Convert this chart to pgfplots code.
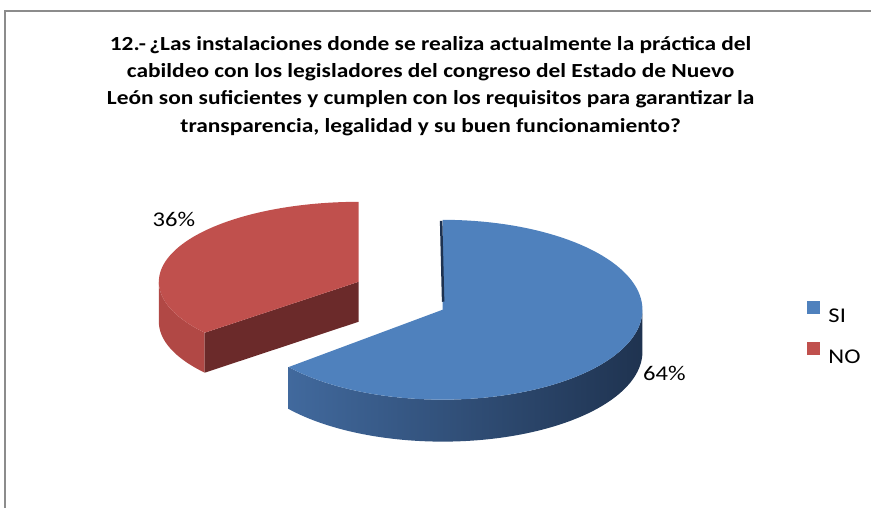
\documentclass[border=0pt]{standalone}
\usepackage{fontspec}
\setmainfont[FakeStretch=1.17]{Carlito}
\usepackage{pgfplots}
\usepackage{pgfplotstable}
\pgfplotsset{compat=1.18}

\definecolor{blueTop}{HTML}{4F81BD}
\definecolor{blueSideL}{HTML}{41699D}
\definecolor{blueSideR}{HTML}{1F3350}
\definecolor{blueEdge}{HTML}{1E3250}
\definecolor{redTop}{HTML}{C0504D}
\definecolor{redSide}{HTML}{B14845}
\definecolor{redCut}{HTML}{6B2A2A}
\definecolor{frameGray}{HTML}{8C8C8C}

\pgfplotstableread{
cat value
SI  64
NO  36
}\piedata
\pgfplotstablegetelem{0}{value}\of\piedata \edef\vSI{\pgfplotsretval}
\pgfplotstablegetelem{1}{value}\of\piedata \edef\vNO{\pgfplotsretval}
% angles (degrees): SI from 90 clockwise, NO after it
\pgfmathsetmacro\aTop{90}
\pgfmathsetmacro\aCut{90+3.6*\vNO}      % 219.6 = 90 - 3.6*SI + 360
\pgfmathsetmacro\aSIend{90+360}         % SI spans aCut .. 450

% geometry (pt, y up)
\def\bcx{443}\def\bcy{198}\def\brx{200}\def\bry{90}\def\bh{42}
\def\rcx{359}\def\rcy{226}\def\rrx{200}\def\rry{80}\def\rh{40}

% sector: cx cy rx ry a1 a2 style
\newcommand{\sector}[7]{%
\addplot[#7, forget plot, domain=0:1.02, samples=103, variable=\t]
 ({ifthenelse(\t<1.005, #1+#3*cos(#5+(#6-#5)*\t), #1)},
  {ifthenelse(\t<1.005, #2+#4*sin(#5+(#6-#5)*\t), #2)});}
% curved side: cx cy rx ry a1 a2 h style
\newcommand{\side}[8]{%
\addplot[#8, forget plot, domain=0:2.01, samples=202, variable=\t]
 ({#1+#3*cos(ifthenelse(\t<1.005, #5+(#6-#5)*\t, #6-(#6-#5)*(\t-1.01)))},
  {#2+#4*sin(ifthenelse(\t<1.005, #5+(#6-#5)*\t, #6-(#6-#5)*(\t-1.01))) - ifthenelse(\t<1.005,0,#7)});}

\begin{document}
\begin{tikzpicture}
\begin{axis}[
  width=872pt, height=508pt, scale only axis,
  xmin=0, xmax=872, ymin=0, ymax=508,
  hide axis, clip=false,
  legend image code/.code={\fill[#1, draw=none] (0pt,2.5pt) rectangle (13pt,15.5pt); \path[draw=none, fill=none] (0pt,2.5pt) -- (20pt,2.5pt);},
  legend style={at={(axis cs:807,207)}, anchor=north west, draw=none, fill=none,
    font=\fontsize{21}{21}\selectfont, inner sep=0pt,
    row sep=16pt, cells={anchor=west}},
]
\path (axis cs:0,0) rectangle (axis cs:872,508);
% frame
\draw[frameGray, line width=1.5pt] (axis cs:5,0) -- (axis cs:5,497) -- (axis cs:872,497);

% title
\node[font=\fontsize{20}{27.5}\selectfont\bfseries, align=center, anchor=center]
  at (axis cs:431,422)
  {12.-\,¿Las instalaciones donde se realiza actualmente la práctica del\\
   cabildeo con los legisladores del congreso del Estado de Nuevo\\
   León son suficientes y cumplen con los requisitos para garantizar la\\
   transparencia, legalidad y su buen funcionamiento?};

% ---- NO slice (exploded) ----
\side{\rcx}{\rcy}{\rrx}{\rry}{180}{\aCut}{\rh}{fill=redSide, draw=none}
\pgfmathsetmacro\rex{\rcx+\rrx*cos(\aCut)}
\pgfmathsetmacro\rey{\rcy+\rry*sin(\aCut)}
\pgfmathsetmacro\reyb{\rey-\rh}
\pgfmathsetmacro\rcyb{\rcy-\rh}
\edef\cutNO{\noexpand\addplot[fill=redCut, draw=none, forget plot] coordinates {(\rcx,\rcy) (\rex,\rey) (\rex,\reyb) (\rcx,\rcyb)} -- cycle;}
\cutNO
\sector{\rcx}{\rcy}{\rrx}{\rry}{\aTop}{\aCut}{fill=redTop, draw=none}

% ---- SI slice ----
\side{\bcx}{\bcy}{\brx}{\bry}{\aCut}{360}{\bh}{left color=blueSideL, right color=blueSideR, draw=none}
\sector{\bcx}{\bcy}{\brx}{\bry}{\aCut}{\aSIend}{fill=blueTop, draw=none}
\addplot[blueEdge, line width=2.5pt, forget plot] coordinates {(441.5,287) (443.5,206)};

% labels
\node[font=\fontsize{21}{21}\selectfont] at (axis cs:174,288) {36\%};
\node[font=\fontsize{21}{21}\selectfont] at (axis cs:665,134) {64\%};

\addlegendimage{blueTop}
\addlegendentry{SI}
\addlegendimage{redTop}
\addlegendentry{NO}
\end{axis}
\end{tikzpicture}
\end{document}
